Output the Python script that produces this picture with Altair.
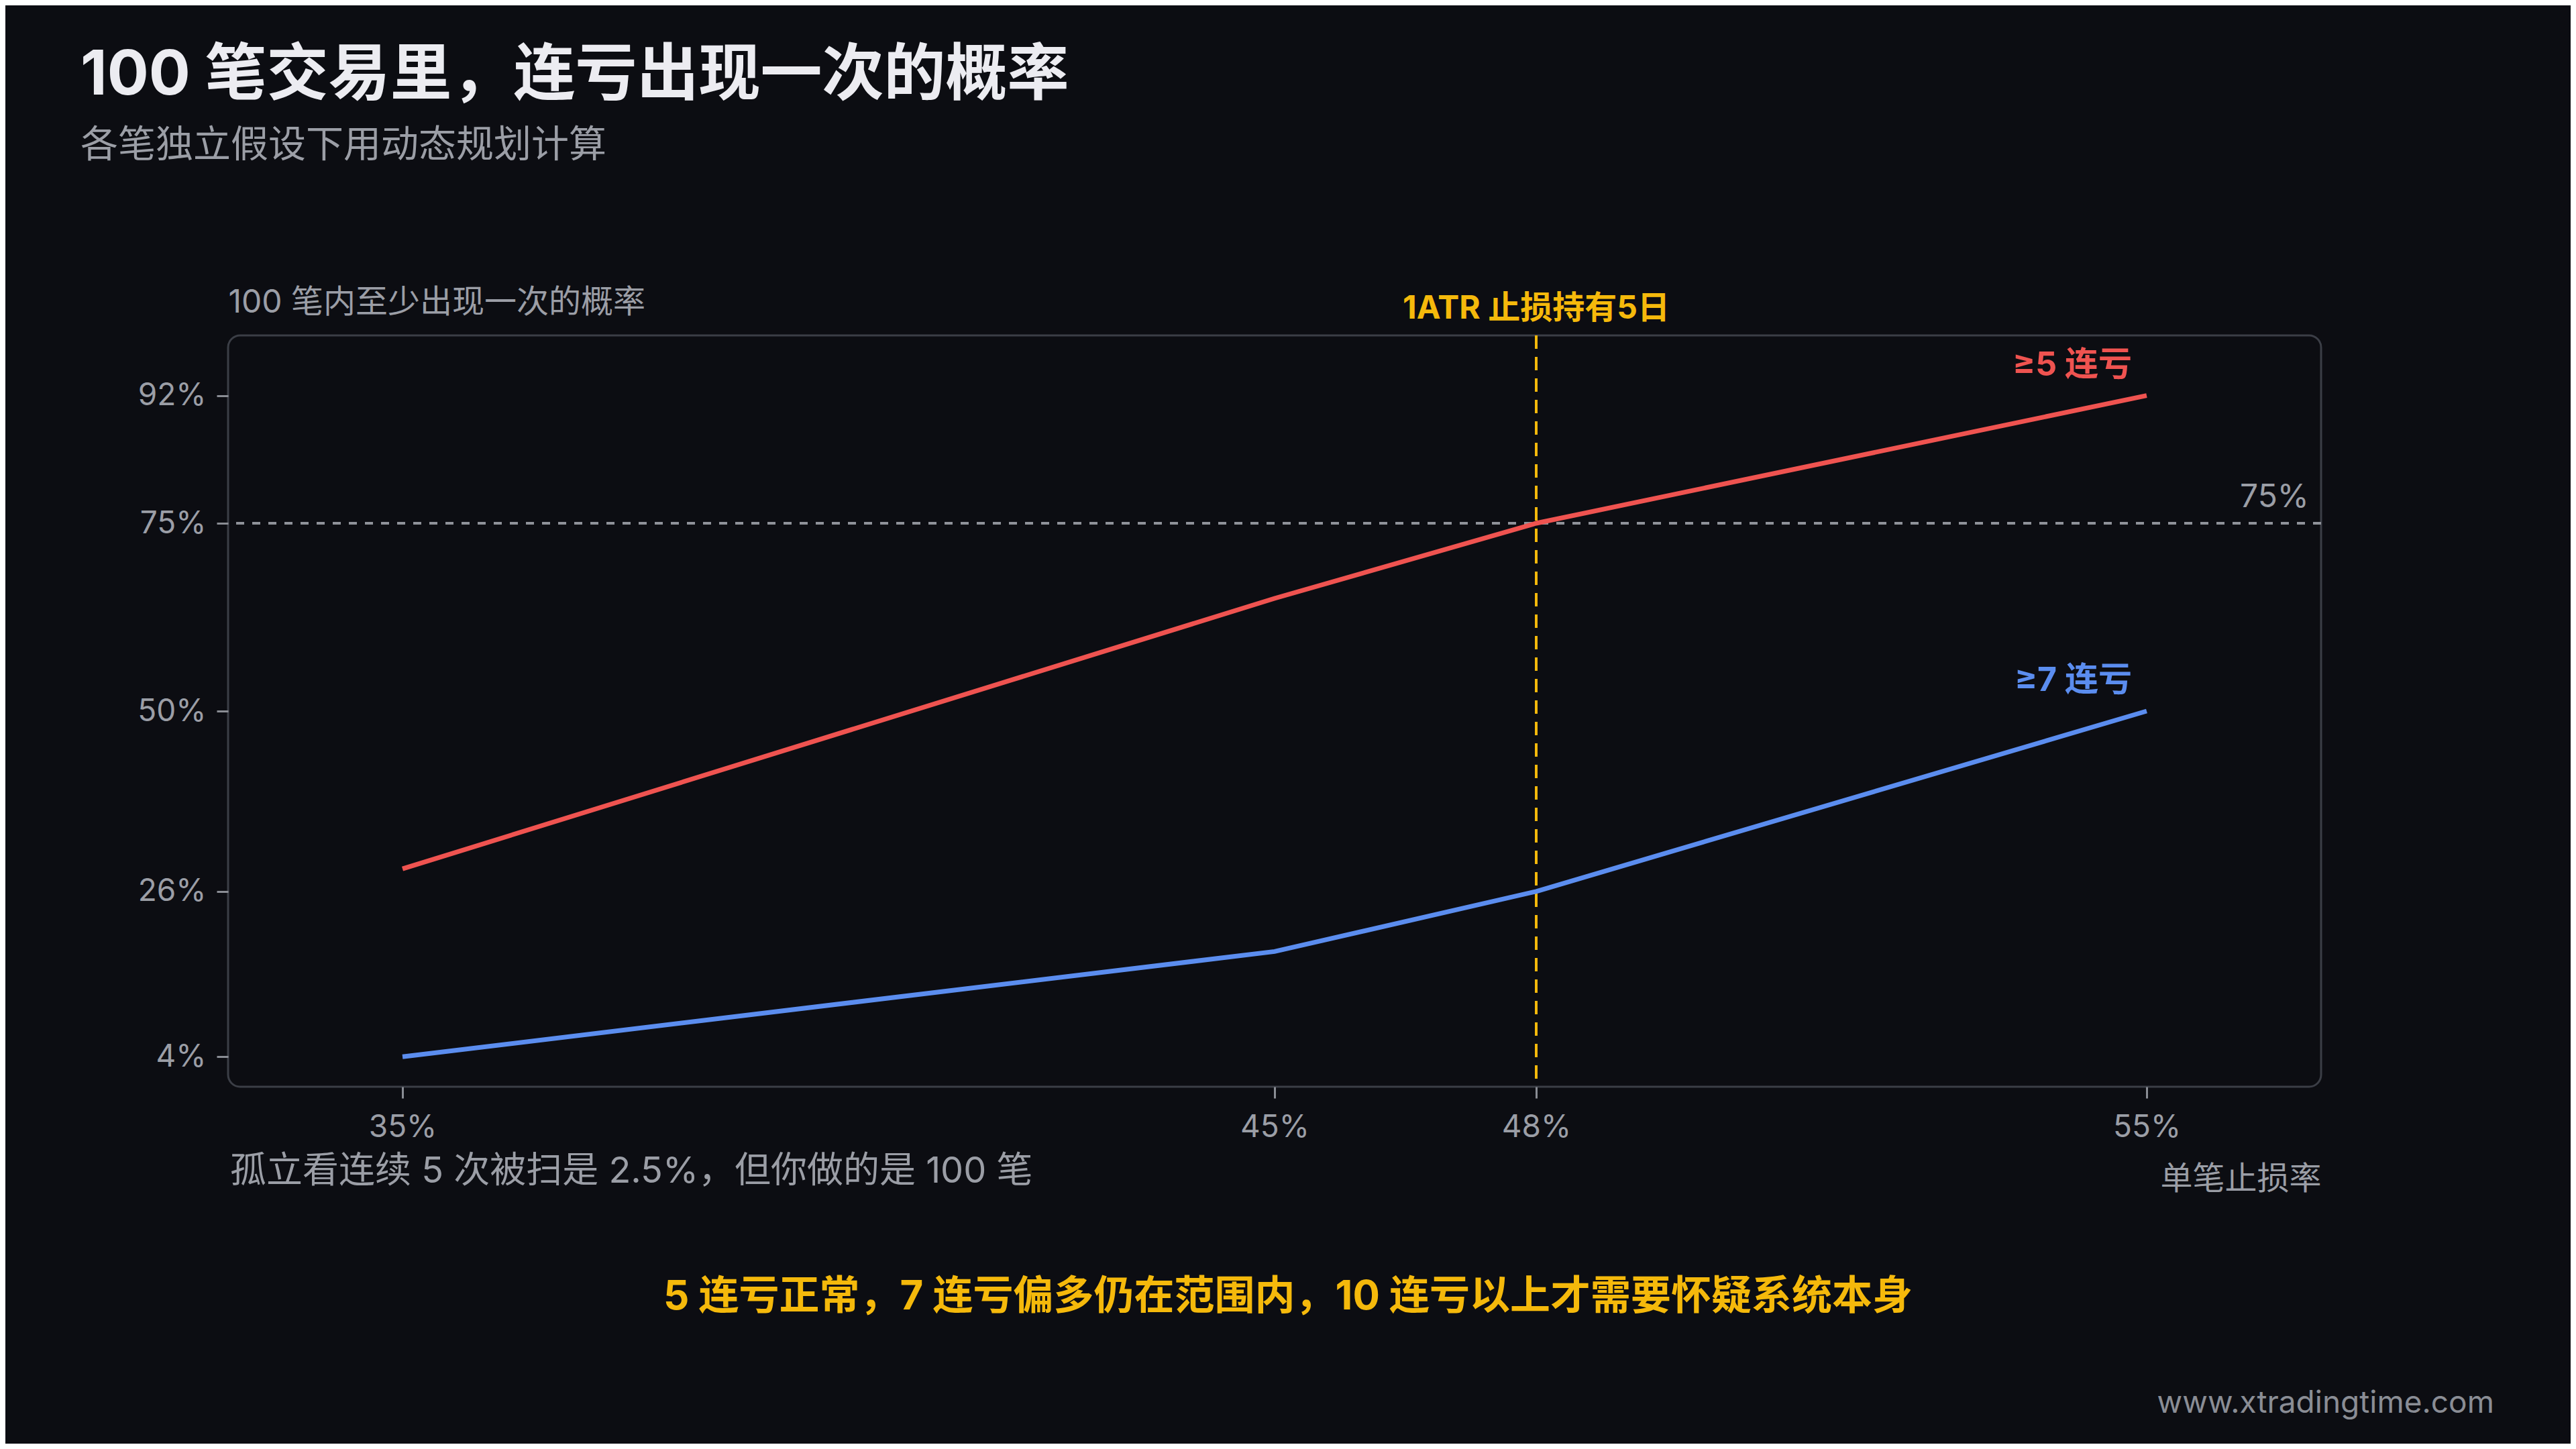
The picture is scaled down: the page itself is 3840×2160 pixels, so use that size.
import altair as alt
import pandas as pd

# single-trade stop-out rate (%) and probability (%) of at least one streak in 100 trades
stop_rate = [35, 45, 48, 55]
streak5_prob = [29, 65, 75, 92]
streak7_prob = [4, 18, 26, 50]
series_names = ["≥5 连亏", "≥7 连亏"]
series_colors = ["#ef5350", "#5b8def"]

x_ticks = [35, 45, 48, 55]
y_ticks = [4, 26, 50, 75, 92]
threshold = 75
marker_rate = 48

title = "100 笔交易里，连亏出现一次的概率"
subtitle = "各笔独立假设下用动态规划计算"
y_title = "100 笔内至少出现一次的概率"
x_title = "单笔止损率"
marker_label = "1ATR 止损持有5日"
note = "孤立看连续 5 次被扫是 2.5%，但你做的是 100 笔"
takeaway = "5 连亏正常，7 连亏偏多仍在范围内，10 连亏以上才需要怀疑系统本身"
footer = "www.xtradingtime.com"

FONT = "Inter, 'Noto Sans CJK SC', sans-serif"
BG = "#0c0d12"
GREY = "#9b9ea6"
YELLOW = "#f5b90b"
W, H = 3120, 1120

lines_df = pd.DataFrame({
    "rate": stop_rate * 2,
    "prob": streak5_prob + streak7_prob,
    "series": [series_names[0]] * len(stop_rate) + [series_names[1]] * len(stop_rate),
})
ends_df = pd.DataFrame({
    "rate": [stop_rate[-1], stop_rate[-1]],
    "prob": [streak5_prob[-1], streak7_prob[-1]],
    "series": series_names,
})

color = alt.Color("series:N", scale=alt.Scale(domain=series_names, range=series_colors), legend=None)

x_enc = alt.X(
    "rate:Q",
    scale=alt.Scale(domain=[33, 57], nice=False, zero=False),
    axis=alt.Axis(
        values=x_ticks, labelExpr="datum.value + '%'", title=x_title,
        titleX=W, titleY=138, titleAlign="right", titleBaseline="middle",
        titleFontSize=48, titleFontWeight="normal", titleColor=GREY,
        labelFontSize=46, labelColor=GREY, labelPadding=21,
        tickSize=17, tickWidth=3, tickColor="#8a8d94", domain=False, grid=False,
    ),
)
y_enc = alt.Y(
    "prob:Q",
    scale=alt.Scale(domain=[0, 100], nice=False),
    axis=alt.Axis(
        values=y_ticks, labelExpr="datum.value + '%'", title=y_title,
        titleAngle=0, titleX=0, titleY=-49, titleAlign="left", titleBaseline="middle",
        titleFontSize=48, titleFontWeight="normal", titleColor=GREY,
        labelFontSize=46, labelColor=GREY, labelPadding=16,
        tickSize=17, tickWidth=3, tickColor="#8a8d94", domain=False, grid=False,
    ),
)

base = alt.Chart(lines_df)

lines = base.mark_line(strokeWidth=7).encode(x=x_enc, y=y_enc, color=color)

end_labels = alt.Chart(ends_df).mark_text(
    align="right", baseline="middle", dx=-22, dy=-45, fontSize=50, fontWeight="bold", font=FONT
).encode(x="rate:Q", y="prob:Q", text="series:N", color=color)

thr_rule = alt.Chart(pd.DataFrame({"prob": [threshold]})).mark_rule(
    strokeDash=[12, 12], strokeWidth=4, color="#8f9299"
).encode(y="prob:Q")

thr_label = alt.Chart(pd.DataFrame({"prob": [threshold], "t": [f"{threshold}%"]})).mark_text(
    align="right", baseline="middle", dy=-38, fontSize=48, color=GREY, font=FONT
).encode(y="prob:Q", x=alt.value(W - 18), text="t:N")

marker_rule = alt.Chart(pd.DataFrame({"rate": [marker_rate]})).mark_rule(
    strokeDash=[20, 12], strokeWidth=4, color=YELLOW
).encode(x="rate:Q")

marker_text = alt.Chart(pd.DataFrame({"rate": [marker_rate], "t": [marker_label]})).mark_text(
    align="center", baseline="middle", fontSize=48, fontWeight="bold", color=YELLOW, font=FONT
).encode(x="rate:Q", y=alt.value(-39), text="t:N")


def free_text(text, x, y, size, color, weight="normal", align="left"):
    return alt.Chart(pd.DataFrame({"t": [text]})).mark_text(
        align=align, baseline="middle", fontSize=size, fontWeight=weight, color=color, font=FONT
    ).encode(x=alt.value(x), y=alt.value(y), text="t:N")


texts = [
    free_text(title, -220, -387, 92, "#ececf1", "bold"),
    free_text(subtitle, -220, -283, 56, GREY),
    free_text(note, 3, 1247, 54, GREY),
    free_text(takeaway, 1580, 1434, 60, YELLOW, "bold", "center"),
    free_text(footer, 3378, 1592, 46, "#8a8d95", align="right"),
]

chart = alt.layer(
    thr_rule, marker_rule, lines, end_labels, thr_label, marker_text, *texts
).properties(
    width=W, height=H,
    padding={"left": 332, "top": 492, "right": 372, "bottom": 532},
    autosize=alt.AutoSizeParams(type="none"),
    background=BG,
).configure_view(
    stroke="#3b3e46", strokeWidth=3, cornerRadius=18, fill=BG
).configure_text(font=FONT).configure_axis(labelFont=FONT, titleFont=FONT)

chart.save("out.html", embed_options={"renderer": "svg", "actions": False})
